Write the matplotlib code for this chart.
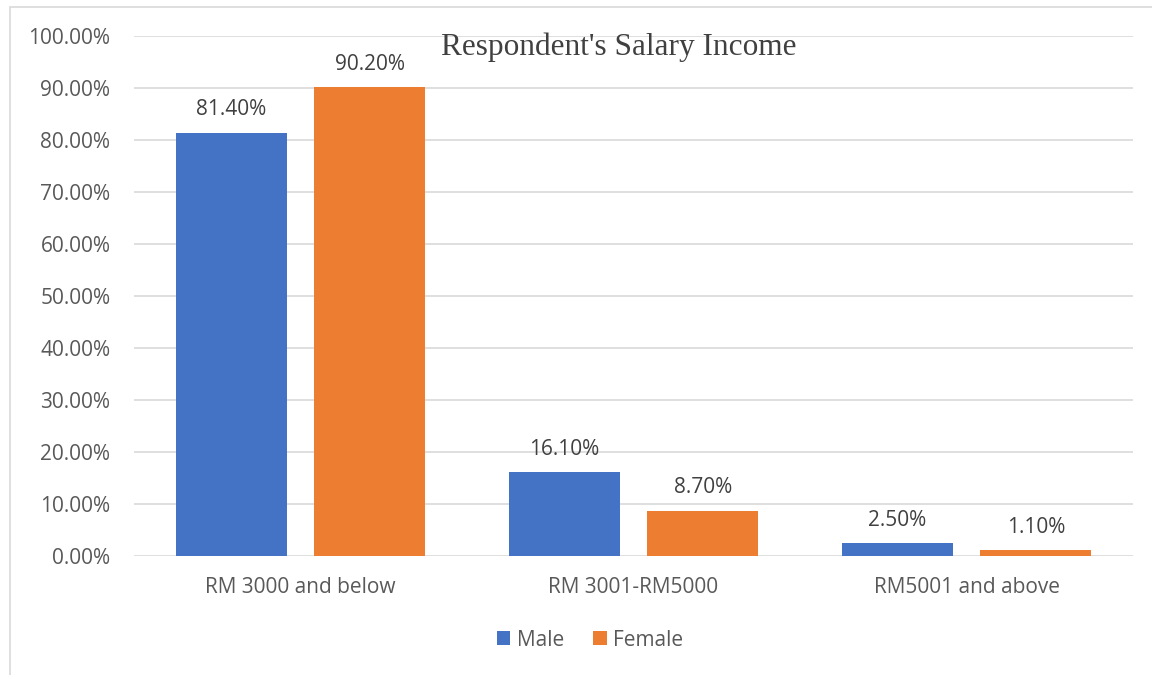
import matplotlib
matplotlib.use("Agg")
import matplotlib.pyplot as plt
import numpy as np
from matplotlib.patches import Rectangle

categories = ["RM 3000 and below", "RM 3001-RM5000", "RM5001 and above"]
male = [81.4, 16.1, 2.5]
female = [90.2, 8.7, 1.1]
yticks = [0, 10, 20, 30, 40, 50, 60, 70, 80, 90, 100]

txt = "#595959"
grid = "#D9D9D9"
font = "Open Sans"
fs = 15

fig = plt.figure(figsize=(11.52, 6.75), dpi=100)
ax = fig.add_axes([134/1152, 1 - 556/675, 999/1152, 520/675])

x = np.arange(len(categories))
width = 0.333
off = 0.208
b1 = ax.bar(x - off, male, width, color="#4472C4", label="Male", zorder=3)
b2 = ax.bar(x + off, female, width, color="#ED7D31", label="Female", zorder=3)

for bars, vals in ((b1, male), (b2, female)):
    for r, v in zip(bars, vals):
        ax.text(r.get_x() + r.get_width()/2, v + 4.4, "%.2f%%" % v,
                ha="center", va="center", fontsize=fs, color="#404040", family=font)

ax.set_xlim(-0.5, 2.5)
ax.set_ylim(0, 100)
ax.set_yticks(yticks)
ax.set_yticklabels(["%.2f%%" % v for v in yticks], fontsize=fs, color=txt, family=font)
ax.set_xticks(x)
ax.set_xticklabels(categories, fontsize=fs, color=txt, family=font)
ax.tick_params(length=0)
ax.tick_params(axis="y", pad=17)
ax.tick_params(axis="x", pad=15)
ax.grid(axis="y", color=grid, linewidth=1.2, zorder=0)
for s in ax.spines.values():
    s.set_visible(False)

ax.text(0.4855, 0.979, "Respondent's Salary Income", transform=ax.transAxes,
        ha="center", va="center", fontsize=22.5, color="#404040", family="Liberation Serif")

fig.legend(handles=[b1, b2], loc="center", bbox_to_anchor=(590/1152, 1 - 640/675),
           ncol=2, frameon=False, prop={"family": font, "size": fs},
           handlelength=0.65, handleheight=0.65, handletextpad=0.3, columnspacing=1.4,
           labelcolor=txt)

fig.add_artist(Rectangle((10/1152, -0.1), 1.2, 1.1 - 7/675, transform=fig.transFigure,
                         fill=False, edgecolor=grid, linewidth=1.2))

fig.savefig("out.png", dpi=100)
